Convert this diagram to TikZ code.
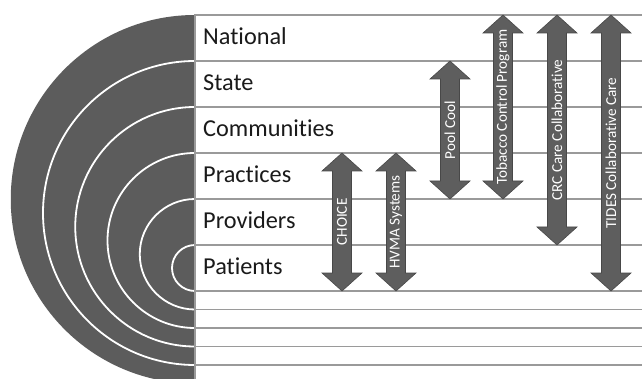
\documentclass[tikz,border=0pt]{standalone}
\usepackage{fontspec}
\setmainfont{Carlito}[Ligatures=NoCommon]
\definecolor{diskgray}{HTML}{5C5C5C}
\definecolor{arrowgray}{HTML}{5E5E5E}
\definecolor{arrowedge}{HTML}{484848}
\definecolor{linegray}{HTML}{9A9A9A}
\definecolor{textdark}{HTML}{1A1A1A}
\newcommand\dblarrow[5]{% name, x, top, bottom, text
  \draw[arrowshape] (#2-9.5,#3+18) -- (#2-20,#3+18) -- (#2,#3) -- (#2+20,#3+18) -- (#2+9.5,#3+18)
    -- (#2+9.5,#4-18) -- (#2+20,#4-18) -- (#2,#4) -- (#2-20,#4-18) -- (#2-9.5,#4-18) -- cycle;
  \node[arrowtext] (#1) at ({#2},{(#3+#4)/2}) {#5};}
\begin{document}
\begin{tikzpicture}[x=1pt,y=-1pt,
  rowline/.style={draw=linegray, line width=1.3pt},
  ring/.style={draw=white, line width=1.8pt},
  level/.style={anchor=base west, font=\fontsize{24.3}{28}\selectfont, text=textdark, inner sep=0pt},
  arrowshape/.style={fill=arrowgray, draw=arrowedge, line width=0.6pt, line join=miter},
  arrowtext/.style={rotate=90, text=white, font=\fontsize{15.2}{18}\selectfont, inner sep=0pt}]
\useasboundingbox (0,0) rectangle (642,379);
\clip (0,0) rectangle (642,379);
\fill[white] (0,0) rectangle (642,379);
% half disk
\fill[diskgray] (195,15) arc[start angle=270, end angle=90, radius=184.25] -- cycle;
% white rings
\foreach \t/\b in {61/365, 107/346.5, 153/328, 199/309.5, 245/291}
  \draw[ring] (195,\t) arc[start angle=270, end angle=90, radius={(\b-\t)/2}];
% row lines
\foreach \y in {15,61,107,153,199,245,291,309.5,328,346.5,365}
  \draw[rowline] (195,\y) -- (645,\y);
\draw[rowline] (195,14.35) -- (195,382);
% level labels
\node[level] (national) at (203,44.5) {National};
\node[level] (state) at (203,90.5) {State};
\node[level] (communities) at (203,136.5) {Communities};
\node[level] (practices) at (203,182.5) {Practices};
\node[level] (providers) at (203,228.5) {Providers};
\node[level] (patients) at (203,274.5) {Patients};
% programme arrows
\dblarrow{choice}{342}{153}{291}{CHOICE}
\dblarrow{hvma}{396}{153}{291}{HVMA Systems}
\dblarrow{pool}{450}{61}{199}{Pool Cool}
\dblarrow{tobacco}{503}{15}{199}{Tobacco Control Program}
\dblarrow{crc}{557}{15}{245}{CRC Care Collaborative}
\dblarrow{tides}{611}{15}{291}{TIDES Collaborative Care}
\end{tikzpicture}
\end{document}
